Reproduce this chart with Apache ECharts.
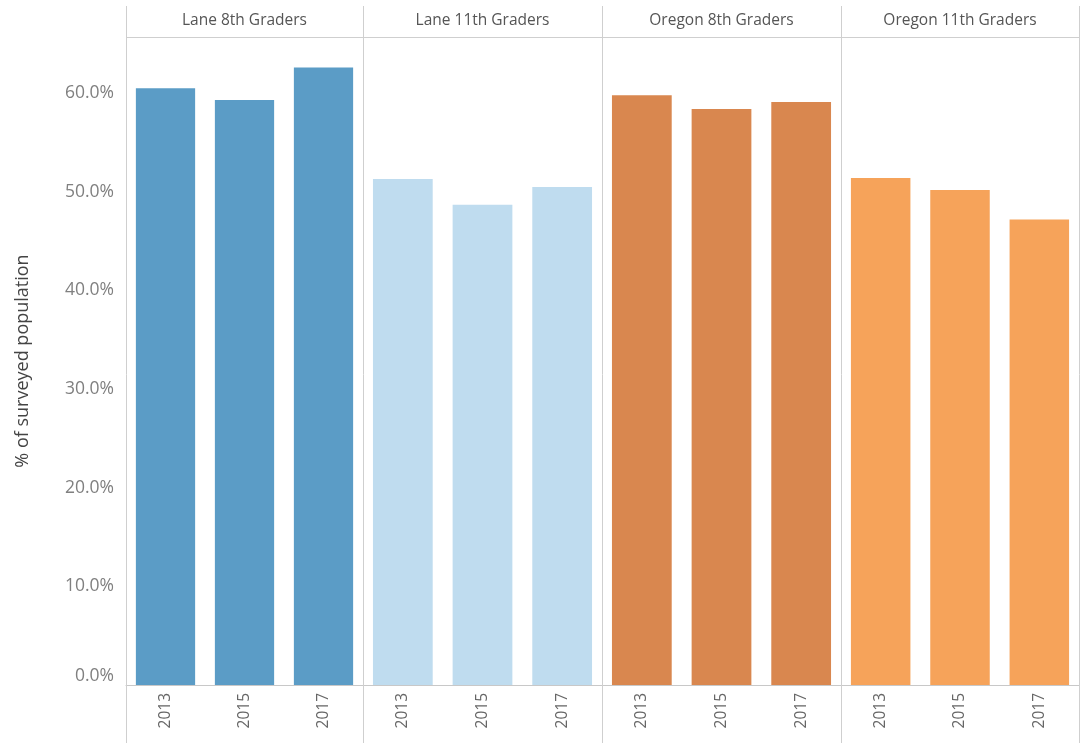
<!DOCTYPE html>
<html>
<head>
<meta charset="utf-8">
<script src="https://cdn.jsdelivr.net/npm/echarts@6/dist/echarts.min.js"></script>
<style>
html,body{margin:0;padding:0;background:#fff;}
#chart{width:1080px;height:743px;}
</style>
</head>
<body>
<div id="chart"></div>
<script>
const years = ['2013', '2015', '2017'];
const panels = ['Lane 8th Graders', 'Lane 11th Graders', 'Oregon 8th Graders', 'Oregon 11th Graders'];
const lane8 = [60.5, 59.3, 62.6];
const lane11 = [51.3, 48.7, 50.5];
const oregon8 = [59.8, 58.4, 59.1];
const oregon11 = [51.4, 50.2, 47.2];
const panelValues = [lane8, lane11, oregon8, oregon11];
const panelColors = ['#5b9cc6', '#bfdcef', '#d9874f', '#f6a35a'];
const yAxisTitle = '% of surveyed population';

const FONT = '"Open Sans", Lato, sans-serif';
const edges = [126, 363, 602, 841, 1079];
const H = 743, gridTop = 37, gridBottomPx = 685;

const grids = [], xAxes = [], yAxes = [], series = [];
panels.forEach((name, i) => {
  grids.push({
    left: edges[i], top: gridTop, width: edges[i + 1] - edges[i],
    bottom: H - gridBottomPx, containLabel: false
  });
  xAxes.push({
    type: 'category', gridIndex: i, data: years, position: 'bottom',
    axisLine: { show: true, lineStyle: { color: '#c8c8c8', width: 1 } },
    axisTick: { show: false },
    axisLabel: { rotate: 90, margin: 8, fontSize: 15.5, color: '#666', fontFamily: FONT }
  });
  xAxes.push({
    type: 'category', gridIndex: i, data: [name], position: 'top',
    axisLine: { show: false }, axisTick: { show: false },
    axisLabel: { margin: 8, fontSize: 15.5, color: '#555', fontFamily: FONT }
  });
  yAxes.push({
    type: 'value', gridIndex: i, min: 0, max: 65.7, interval: 10,
    axisLine: { show: false }, axisTick: { show: false }, splitLine: { show: false },
    axisLabel: {
      show: i === 0, showMaxLabel: false, margin: 12, fontSize: 17.5, color: '#808080', fontFamily: FONT,
      verticalAlignMinLabel: 'bottom',
      formatter: v => v.toFixed(1) + '%'
    },
    name: i === 0 ? yAxisTitle : '',
    nameLocation: 'middle', nameGap: 94, nameRotate: 90,
    nameTextStyle: { fontSize: 18, color: '#444', fontFamily: FONT }
  });
  series.push({
    type: 'bar', xAxisIndex: i * 2, yAxisIndex: i,
    data: panelValues[i], barCategoryGap: '25%',
    itemStyle: { color: panelColors[i] },
    emphasis: { disabled: true }
  });
});

const lineStyle = { stroke: '#cfcfcf', lineWidth: 1 };
const graphics = [];
edges.forEach(x => {
  graphics.push({ type: 'line', silent: true, z: 10,
    shape: { x1: x + 0.5, y1: 6, x2: x + 0.5, y2: H }, style: lineStyle });
});
graphics.push({ type: 'line', silent: true, z: 10,
  shape: { x1: edges[0], y1: gridTop + 0.5, x2: 1080, y2: gridTop + 0.5 }, style: lineStyle });

const chart = echarts.init(document.getElementById('chart'), null, { renderer: 'canvas' });
chart.setOption({
  animation: false,
  backgroundColor: '#fff',
  grid: grids,
  xAxis: xAxes,
  yAxis: yAxes,
  series: series,
  graphic: graphics
});
</script>
</body>
</html>
